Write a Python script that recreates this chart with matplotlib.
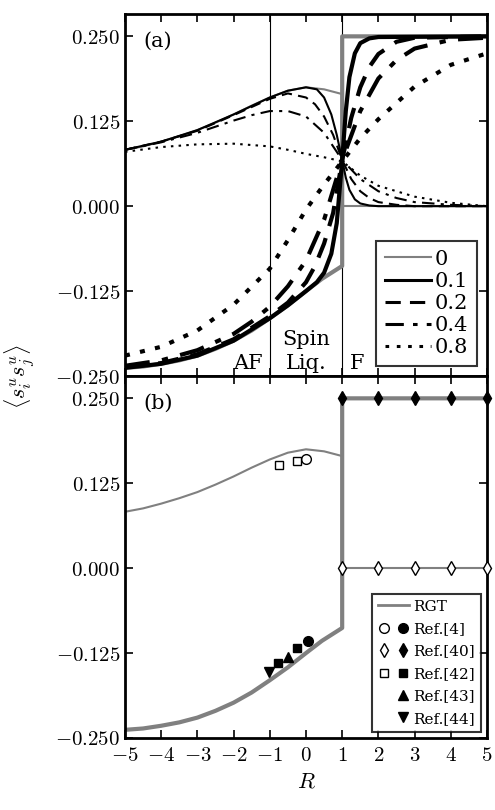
import numpy as np
import matplotlib
matplotlib.use("Agg")
import matplotlib.pyplot as plt
from matplotlib.lines import Line2D
from matplotlib.legend_handler import HandlerTuple

plt.rcParams['font.family'] = 'DejaVu Serif'
plt.rcParams['mathtext.fontset'] = 'cm'
plt.rcParams['font.size'] = 15

# T = 0 (RGT)
r0 = [-5, -4.5, -4, -3.5, -3, -2.5, -2, -1.5, -1, -0.5, 0, 0.5, 1]
up0 = [0.083, 0.088, 0.095, 0.103, 0.112, 0.123, 0.135, 0.148, 0.160, 0.170, 0.175, 0.172, 0.165]
lo0r = [-5, -4.5, -4, -3.5, -3, -2.5, -2, -1.5, -1, -0.5, 0, 0.44, 1, 1, 5]
lo0 = [-0.238, -0.236, -0.232, -0.227, -0.220, -0.210, -0.198, -0.183, -0.165, -0.146, -0.125,
       -0.107, -0.088, 0.25, 0.25]
f0r = [1, 5]
f0 = [0.0, 0.0]

# finite T curves: (R, upper), (R, lower)
r01u = [-5, -4, -3, -2, -1, -0.5, 0, 0.3, 0.5, 0.7, 0.85, 1.0, 1.1, 1.2, 1.35, 1.5, 1.75, 2, 5]
t01u = [0.083, 0.095, 0.112, 0.135, 0.160, 0.170, 0.175, 0.172, 0.160, 0.135, 0.105, 0.068,
        0.042, 0.024, 0.010, 0.004, 0.001, 0.0, 0.0]
r01l = [-5, -4, -3, -2, -1, -0.5, 0, 0.3, 0.5, 0.7, 0.85, 1.0, 1.1, 1.2, 1.35, 1.5, 1.75, 2, 5]
t01l = [-0.238, -0.232, -0.220, -0.198, -0.165, -0.146, -0.125, -0.112, -0.098, -0.070,
        -0.025, 0.068, 0.140, 0.190, 0.225, 0.240, 0.247, 0.249, 0.25]

r02u = [-5, -4, -3, -2, -1, -0.5, 0, 0.25, 0.5, 0.75, 1, 1.25, 1.5, 1.75, 2, 2.5, 3, 5]
t02u = [0.083, 0.095, 0.111, 0.134, 0.158, 0.166, 0.160, 0.150, 0.132, 0.105, 0.068, 0.040,
        0.022, 0.012, 0.006, 0.002, 0.0, 0.0]
r02l = [-5, -4, -3, -2, -1, -0.5, 0, 0.25, 0.5, 0.75, 1, 1.25, 1.5, 1.75, 2, 2.5, 3, 5]
t02l = [-0.237, -0.231, -0.218, -0.196, -0.162, -0.142, -0.112, -0.088, -0.055, -0.010,
        0.068, 0.130, 0.175, 0.205, 0.224, 0.242, 0.248, 0.25]

r04u = [-5, -4, -3, -2, -1.5, -1, -0.5, 0, 0.5, 1, 1.5, 2, 2.5, 3, 4, 5]
t04u = [0.083, 0.094, 0.108, 0.126, 0.134, 0.140, 0.140, 0.132, 0.108, 0.068, 0.040, 0.022,
        0.012, 0.006, 0.002, 0.0]
r04l = [-5, -4, -3, -2, -1.5, -1, -0.5, 0, 0.5, 1, 1.5, 2, 2.5, 3, 4, 5]
t04l = [-0.235, -0.227, -0.212, -0.188, -0.170, -0.148, -0.118, -0.080, -0.020, 0.068,
        0.140, 0.188, 0.215, 0.232, 0.245, 0.248]

r08u = [-5, -4, -3, -2, -1, -0.5, 0, 0.5, 1, 1.5, 2, 3, 4, 5]
t08u = [0.080, 0.087, 0.091, 0.092, 0.088, 0.083, 0.077, 0.072, 0.066, 0.045, 0.030, 0.014,
        0.005, 0.0]
r08l = [-5, -4, -3, -2, -1, -0.5, 0, 0.5, 1, 1.5, 2, 3, 4, 5]
t08l = [-0.220, -0.207, -0.183, -0.145, -0.092, -0.050, -0.005, 0.032, 0.066, 0.100, 0.128,
        0.176, 0.208, 0.225]

# reference points (panel b)
ref4_open = ([0.0], [0.160])
ref4_fill = ([0.05], [-0.107])
ref40_r = [1, 2, 3, 4, 5]
ref40_open = [0.0] * 5
ref40_fill = [0.25] * 5
ref42_open = ([-0.75, -0.25], [0.152, 0.158])
ref42_fill = ([-0.77, -0.25], [-0.140, -0.118])
ref43 = ([-0.5], [-0.131])
ref44 = ([-1.02], [-0.153])

gray = '#808080'
fig = plt.figure(figsize=(4.95, 8.1), dpi=100)
ax1 = fig.add_axes([0.2525, 0.5358, 0.7313, 0.447])
ax2 = fig.add_axes([0.2525, 0.0889, 0.7313, 0.447])

# panel a
ax1.axvline(-1, color='k', lw=0.8)
ax1.axvline(1, color='k', lw=0.8)
ax1.plot(r0, up0, color=gray, lw=1.5)
ax1.plot(lo0r, lo0, color=gray, lw=3)
ax1.plot(f0r, f0, color=gray, lw=1.5)
ax1.plot([1, 1], [0.165, 0.0], color=gray, lw=1.5)
styles = [((r01u, t01u, r01l, t01l), '-', '0.1'),
          ((r02u, t02u, r02l, t02l), (0, (5, 3)), '0.2'),
          ((r04u, t04u, r04l, t04l), (0, (6, 3, 1.5, 3)), '0.4'),
          ((r08u, t08u, r08l, t08l), (0, (1.2, 2.5)), '0.8')]
handles = [Line2D([], [], color=gray, lw=1.5, label='0')]
for (ru, tu, rl, tl), ls, lab in styles:
    ax1.plot(ru, tu, color='k', lw=1.5, ls=ls)
    ax1.plot(rl, tl, color='k', lw=3, ls=ls)
    handles.append(Line2D([], [], color='k', lw=2.2, ls=ls, label=lab))
leg = ax1.legend(handles=handles, loc='lower right', fontsize=15, frameon=True,
                 fancybox=False, edgecolor='k', handlelength=2.2, handletextpad=0.2,
                 labelspacing=0.15, borderaxespad=0.5)
leg.get_frame().set_linewidth(1.5)
ax1.text(0.05, 0.95, '(a)', transform=ax1.transAxes, va='top')
ax1.text(-1.2, -0.245, 'AF', ha='right', va='bottom')
ax1.text(0, -0.245, 'Spin\nLiq.', ha='center', va='bottom', linespacing=1.3)
ax1.text(1.2, -0.245, 'F', ha='left', va='bottom')

# panel b
ax2.plot(r0, up0, color=gray, lw=1.5)
ax2.plot(lo0r, lo0, color=gray, lw=3)
ax2.plot([1, 1], [0.0, 0.1], color=gray, lw=1.5)
ax2.plot(f0r, f0, color=gray, lw=1.5)
ms = 7
ax2.plot(*ref4_open, 'o', mfc='w', mec='k', ms=ms)
ax2.plot(*ref4_fill, 'o', color='k', ms=ms)
ax2.plot(ref40_r, ref40_open, 'd', mfc='w', mec='k', ms=ms, clip_on=False, zorder=5)
ax2.plot(ref40_r, ref40_fill, 'd', color='k', ms=ms, clip_on=False, zorder=5)
ax2.plot(*ref42_open, 's', mfc='w', mec='k', ms=6)
ax2.plot(*ref42_fill, 's', color='k', ms=6)
ax2.plot(*ref43, '^', color='k', ms=ms)
ax2.plot(*ref44, 'v', color='k', ms=ms)

blank = Line2D([], [], ls='none', marker='')
def mk(m, filled, s=ms):
    return Line2D([], [], ls='none', marker=m, ms=s, mec='k', mfc='k' if filled else 'w')
h2 = [Line2D([], [], color=gray, lw=2),
      (mk('o', False), mk('o', True)),
      (mk('d', False), mk('d', True)),
      (mk('s', False, 6), mk('s', True, 6)),
      (blank, mk('^', True)),
      (blank, mk('v', True))]
labs = ['RGT', 'Ref.[4]', 'Ref.[40]', 'Ref.[42]', 'Ref.[43]', 'Ref.[44]']
leg2 = ax2.legend(h2, labs, loc='lower right', fontsize=11, frameon=True, fancybox=False,
                  edgecolor='k', handlelength=2.0, handletextpad=0.3, labelspacing=0.55,
                  borderaxespad=0.4, borderpad=0.4,
                  handler_map={tuple: HandlerTuple(ndivide=None, pad=0.5)})
leg2.get_frame().set_linewidth(1.5)
ax2.text(0.05, 0.95, '(b)', transform=ax2.transAxes, va='top')

yt = [-0.25, -0.125, 0.0, 0.125, 0.25]
ylab = ['$-0.250$', '$-0.125$', '$0.000$', '$0.125$', '$0.250$']
for ax in (ax1, ax2):
    ax.set_xlim(-5, 5)
    ax.set_ylim(-0.25, 0.283)
    ax.set_yticks(yt)
    ax.set_yticklabels(ylab, fontsize=15)
    ax.set_xticks(range(-5, 6))
    ax.tick_params(direction='in', top=True, right=True, length=6, width=1.2)
    ax.tick_params(axis='x', pad=6)
    for s in ax.spines.values():
        s.set_linewidth(2)
ax1.set_xticklabels([])
ax2.set_xticklabels(['$%d$' % v if v >= 0 else '$-%d$' % -v for v in range(-5, 6)], fontsize=15)
ax2.set_xlabel('$R$', fontsize=16)
fig.text(0.04, 0.535, r'$\langle s_i^u s_j^u\rangle$', rotation=90, ha='center', va='center', fontsize=16)

fig.savefig('out.png', dpi=100)
